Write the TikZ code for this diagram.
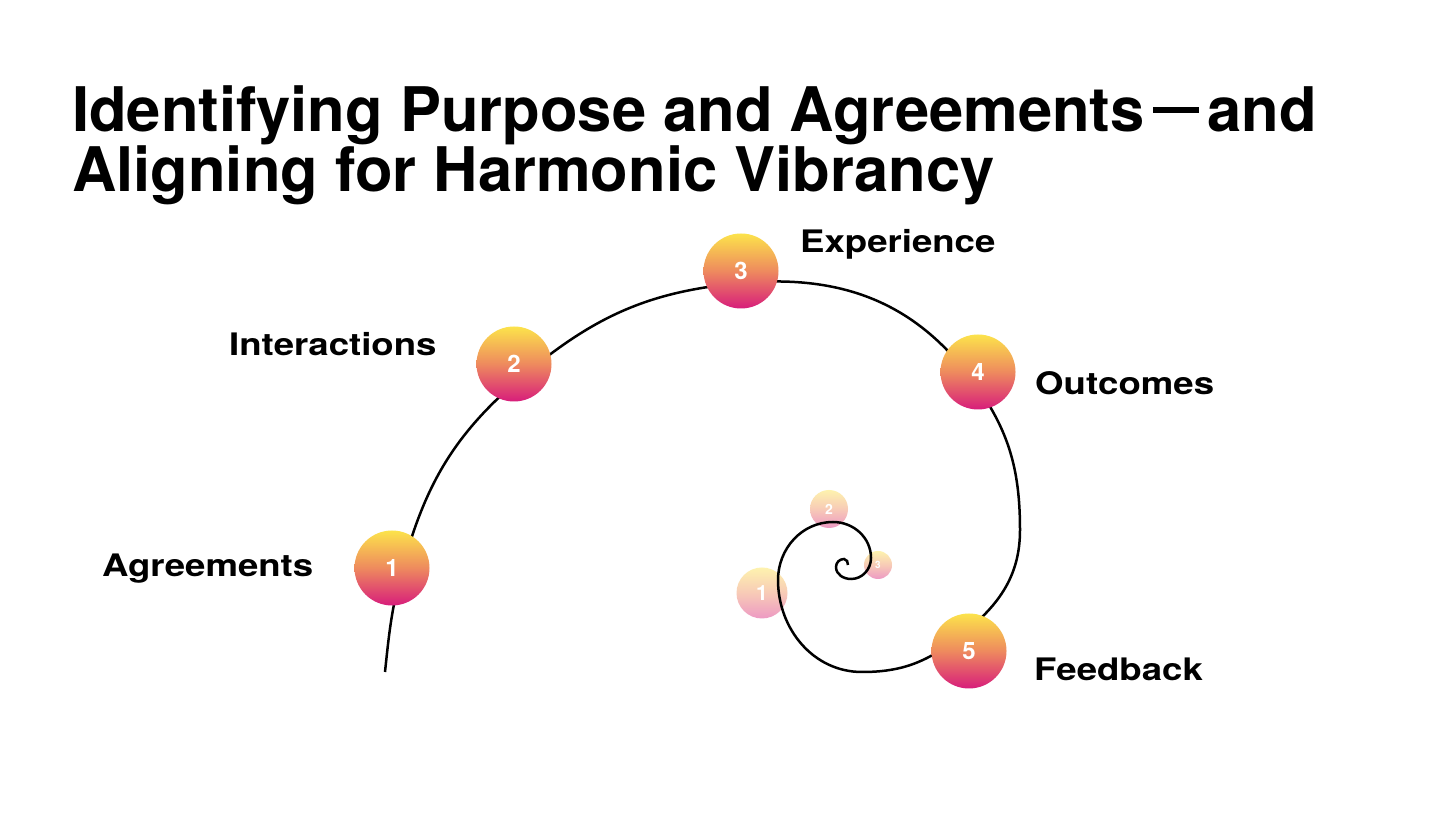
\documentclass[tikz,border=0pt]{standalone}
\usepackage{fontspec}
\usepackage{xcolor}
\usepackage{tikz}
\usetikzlibrary{positioning}
\setmainfont{TeX Gyre Heros}
\newfontfamily\labelfont{TeX Gyre Heros}[FakeStretch=1.18]
\definecolor{dotyellow}{HTML}{FCE34B}
\definecolor{dotorange}{HTML}{EE8A5E}
\definecolor{dotpink}{HTML}{D71D7B}

\begin{document}
\begin{tikzpicture}[
  x=1pt, y=1pt,
  dot/.style={circle, inner sep=0pt, minimum size=75pt, top color=dotyellow, bottom color=dotpink, middle color=dotorange, text=white, font=\bfseries\fontsize{24}{24}\selectfont},
  ghost/.style={circle, inner sep=0pt, top color=dotyellow!45!white, bottom color=dotpink!45!white, middle color=dotorange!45!white, text=white, font=\bfseries},
  lbl/.style={anchor=base west, inner sep=0pt, font=\labelfont\bfseries\fontsize{31}{31}\selectfont},
  spiral/.style={line width=2.5pt}
]
\path[use as bounding box, fill=white] (0,0) rectangle (1456,819);

\node[anchor=north west, inner sep=0pt, align=left, font=\bfseries\fontsize{61.5}{60}\selectfont] (title) at (72,734) {Identifying Purpose and Agreements\kern8pt\rule[18pt]{46pt}{6pt}\kern9pt and\\Aligning for Harmonic Vibrancy};

% small ones in the middle of the spiral
\node[ghost, minimum size=51pt, font=\bfseries\fontsize{21}{21}\selectfont] (g1) at (762,226) {1};
\node[ghost, minimum size=38pt, font=\bfseries\fontsize{14}{14}\selectfont] (g2) at (829,310) {2};
\node[ghost, minimum size=28pt, font=\bfseries\fontsize{10}{10}\selectfont] (g3) at (878,254) {3};

\coordinate (p0) at (385,147);
\coordinate (p1) at (402,249);
\coordinate (p2) at (523,443);
\coordinate (p3) at (742,536);
\coordinate (p4) at (970,442);
\coordinate (p5) at (1020,289);
\coordinate (p6) at (959,182);
\coordinate (p7) at (862,147);
\coordinate (p8) at (778,239);
\coordinate (p9) at (833,297);
\coordinate (p10) at (871,261);
\coordinate (p11) at (851,240);
\coordinate (p12) at (836,252);
\coordinate (p13) at (844,260);
\coordinate (p14) at (848,254);

\draw[spiral] (p0) to[out=84,in=255] (p1) to[out=75,in=220] (p2)
  to[out=40,in=185] (p3) to[out=5,in=127] (p4) to[out=-53,in=90] (p5)
  to[out=-90,in=38] (p6) to[out=218,in=0] (p7) to[out=180,in=-90] (p8)
  to[out=90,in=180] (p9) to[out=0,in=90] (p10) to[out=-90,in=0] (p11)
  to[out=180,in=-90] (p12) to[out=90,in=180] (p13) to[out=0,in=90] (p14);

\node[dot] (c1) at (392,251) {1};
\node[dot] (c2) at (514,455) {2};
\node[dot] (c3) at (741,548) {3};
\node[dot] (c4) at (978,447) {4};
\node[dot] (c5) at (969,168) {5};

\node[lbl] (agree) at (102,242) {Agreements};
\node[lbl] (inter) at (229,463) {Interactions};
\node[lbl] (exper) at (800,566) {Experience};
\node[lbl] (outc) at (1035,424) {Outcomes};
\node[lbl] (feed) at (1034,138) {Feedback};
\end{tikzpicture}
\end{document}
